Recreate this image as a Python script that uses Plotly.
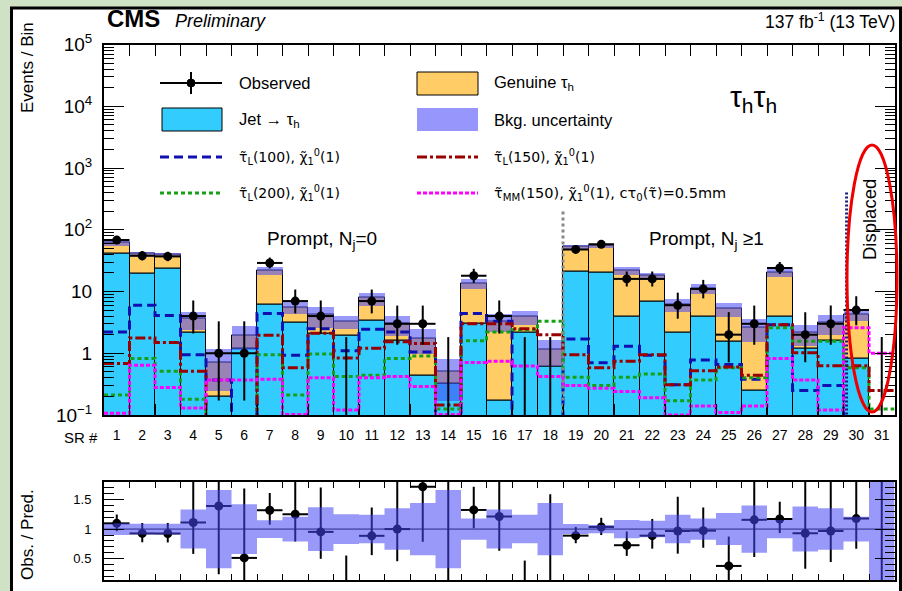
import numpy as np
import plotly.graph_objects as go

W, H = 902, 591

# ---------------- data ----------------
sr_labels = [str(i) for i in range(1, 32)]
jet_tau = [41, 19.6, 23.6, 2.2, 0.2, 1.19, 6.2, 3.2, 2.1, 1.95, 3.4, 1.6, 0.43, 0.32, 3.0, 0.17,
           2.2, 0.62, 21, 20, 4.0, 7.0, 2.2, 4.0, 1.55, 0.245, 4.0, 1.2, 1.6, 0.82, 0]
genuine_tau = [21, 21.4, 16.4, 1.4, 0.52, 0.76, 15.8, 2.4, 2.1, 1.35, 4.5, 1.4, 1.32, 0.18, 10.6, 3.13,
               1.7, 0.53, 33, 36, 18, 11, 4.0, 7.3, 3.75, 2.35, 16.5, 0.95, 1.5, 3.43, 0]
observed = [68, 38, 37, 4, 1, 1, 29, 7, 4, 0, 7, 3, 3, 0, 18, 4,
            0, 0, 48, 58, 16, 16, 6, 11, 2, 3, 24, 2, 3, 5, 0]
bkg_rel_unc = [0.10, 0.09, 0.09, 0.33, 0.66, 0.42, 0.15, 0.21, 0.37, 0.25, 0.24, 0.35, 0.44, 0.66, 0.18, 0.33,
               0.24, 0.44, 0.085, 0.07, 0.155, 0.14, 0.24, 0.18, 0.27, 0.40, 0.155, 0.38, 0.35, 0.21, None]
sig_tauL100 = [2.2, 6.0, 4.1, 0.95, 0.37, 0, 4.4, 0.93, 2.5, 1.1, 2.45, 2.2, 1.05, 0, 4.4, 3.3,
               0, 0, 1.7, 0.7, 1.3, 0.93, 0.31, 0.78, 0.66, 0.38, 2.9, 0.25, 0.3, 0, 0]
sig_tauL150 = [0.68, 1.77, 1.5, 0.51, 0, 0, 1.96, 0.58, 2.1, 0.84, 1.2, 1.53, 1.44, 0.145, 3.0, 3.0,
               2.5, 2.0, 0.95, 0.58, 0.74, 0.95, 0.31, 0.52, 0.6, 0.44, 2.9, 1.02, 0.63, 0.63, 0.25]
sig_tauL200 = [0.21, 0.82, 0.51, 0.18, 0, 0, 0.95, 0.21, 0.97, 0.42, 0.44, 0.82, 0.9, 0.125, 1.6, 2.2,
               2.4, 3.3, 0.41, 0.30, 0.41, 0.46, 0.17, 0.37, 0.58, 0.40, 2.6, 1.56, 1.56, 0.58, 0.125]
sig_tauMM150 = [0.107, 0.64, 0.28, 0.13, 0.37, 0.37, 0.38, 0.102, 0.4, 0.12, 0.4, 0.42, 0.29, 0.102, 0.71, 0.74,
                0.62, 0.42, 0.3, 0.27, 0.24, 0.19, 0.1, 0.14, 0.11, 0.14, 0.82, 0.37, 0.12, 2.6, 1.0]

# ---------------- styles ----------------
FONT = "Liberation Sans, Arial, Helvetica, sans-serif"
FONT_TILDE = "DejaVu Sans, Liberation Sans, sans-serif"
C_JET = "#33ccff"
C_GEN = "#ffcc66"
C_UNC = "rgba(70,70,245,0.55)"
C_UNC_LEG = "rgb(150,150,252)"
C_BLUE = "#1010b0"
C_RED = "#990000"
C_GREEN = "#16a016"
C_MAG = "#ff00ff"
BG_GREEN = "#cfe2c6"
FLOOR = 1e-3
RATIO_RANGE = [0.14, 1.8]


def px(x):
    return x / W


def py(y):
    return 1 - y / H


n = len(sr_labels)
centers = np.arange(1, n + 1, dtype=float)
edges = np.arange(0.5, n + 1.0, 1.0)
jet = np.array(jet_tau, float)
gen = np.array(genuine_tau, float)
tot = jet + gen
obs = np.array(observed, float)
unc = np.array([u if u is not None else np.nan for u in bkg_rel_unc], float)


def garwood(k):
    kk = np.maximum(k, 1)
    lo = np.where(k > 0, k * (1 - 1 / (9 * kk) - 1 / (3 * np.sqrt(kk))) ** 3, 0.0)
    up = (k + 1) * (1 - 1 / (9 * (k + 1)) + 1 / (3 * np.sqrt(k + 1))) ** 3
    return k - lo, up - k


err_lo, err_up = garwood(obs)

fig = go.Figure()

# ---------------- main panel ----------------
fig.add_trace(go.Bar(x=centers, y=jet, base=[FLOOR] * n, width=1.0, marker=dict(color=C_JET, line=dict(color="black", width=1)),
                     showlegend=False, name="Jet → τh", xaxis="x", yaxis="y"))
fig.add_trace(go.Bar(x=centers, y=gen, base=jet, width=1.0, marker=dict(color=C_GEN, line=dict(color="black", width=1)),
                     showlegend=False, name="Genuine τh", xaxis="x", yaxis="y"))
m = (tot > 0) & ~np.isnan(unc)
fig.add_trace(go.Bar(x=centers[m], y=(2 * tot * unc)[m], base=(tot * (1 - unc))[m], width=1.0,
                     marker=dict(color=C_UNC, line=dict(width=0)), showlegend=False, name="Bkg. uncertainty",
                     xaxis="x", yaxis="y"))


def step_xy(vals):
    v = np.array(vals, float)
    v = np.where(v > 0, v, FLOOR)
    return edges, np.append(v, v[-1])


for vals, col, dash, nm in [
    (sig_tauL100, C_BLUE, "9px,5px", "τL(100)"),
    (sig_tauL200, C_GREEN, "4px,3px", "τL(200)"),
    (sig_tauL150, C_RED, "10px,3px,3px,3px", "τL(150)"),
    (sig_tauMM150, C_MAG, "4px,2px", "τMM(150)"),
]:
    xs, ys = step_xy(vals)
    fig.add_trace(go.Scatter(x=xs, y=ys, mode="lines", line=dict(color=col, width=3, dash=dash, shape="hv"),
                             showlegend=False, name=nm, xaxis="x", yaxis="y"))

# region separators
fig.add_trace(go.Scatter(x=[18.5, 18.5], y=[FLOOR, 200], mode="lines", line=dict(color="#888888", width=3, dash="3px,3px"),
                         showlegend=False, hoverinfo="skip", xaxis="x", yaxis="y"))
fig.add_trace(go.Scatter(x=[29.62, 29.62], y=[FLOOR, 400], mode="lines", line=dict(color="#1a1a7a", width=3, dash="2px,2px"),
                         showlegend=False, hoverinfo="skip", xaxis="x", yaxis="y"))

# observed
mo = obs > 0
fig.add_trace(go.Scatter(x=centers[mo], y=obs[mo], mode="markers", marker=dict(color="black", size=9),
                         error_y=dict(type="data", symmetric=False, array=err_up[mo], arrayminus=err_lo[mo],
                                      color="black", thickness=2, width=0),
                         error_x=dict(type="data", array=[0.5] * int(mo.sum()), color="black", thickness=2, width=0),
                         showlegend=False, name="Observed", xaxis="x", yaxis="y"))
zx, zy = [], []
for c, e in zip(centers[~mo], err_up[~mo]):
    zx += [c, c, None]
    zy += [FLOOR, e, None]
fig.add_trace(go.Scatter(x=zx, y=zy, mode="lines", line=dict(color="black", width=2), showlegend=False,
                         hoverinfo="skip", xaxis="x", yaxis="y"))
# invisible trace so that the label axis (x3) is drawn
fig.add_trace(go.Scatter(x=centers, y=[1] * n, mode="markers", marker=dict(opacity=0, size=1), showlegend=False,
                         hoverinfo="skip", xaxis="x3", yaxis="y"))

# ---------------- ratio panel ----------------
fig.add_trace(go.Scatter(x=[edges[0], edges[-1]], y=[1, 1], mode="lines", line=dict(color="black", width=1),
                         showlegend=False, hoverinfo="skip", xaxis="x2", yaxis="y2"))
mr = mo & (tot > 0)
safe_tot = np.where(tot > 0, tot, 1)
ratio = obs / safe_tot
fig.add_trace(go.Scatter(x=centers[mr], y=ratio[mr], mode="markers", marker=dict(color="black", size=9),
                         error_y=dict(type="data", symmetric=False, array=(err_up / safe_tot)[mr],
                                      arrayminus=(err_lo / safe_tot)[mr], color="black", thickness=2, width=0),
                         error_x=dict(type="data", array=[0.5] * int(mr.sum()), color="black", thickness=2, width=0),
                         showlegend=False, name="Obs./Pred.", xaxis="x2", yaxis="y2"))
rx, ry = [], []
for i in np.where(~mo)[0]:
    top = err_up[i] / tot[i] if tot[i] > 0 else RATIO_RANGE[1]
    rx += [centers[i], centers[i], None]
    ry += [RATIO_RANGE[0], min(top, RATIO_RANGE[1]), None]
fig.add_trace(go.Scatter(x=rx, y=ry, mode="lines", line=dict(color="black", width=2), showlegend=False,
                         hoverinfo="skip", xaxis="x2", yaxis="y2"))
bx, by = [], []
for i in range(n):
    lo_e, hi_e = edges[i], edges[i + 1]
    if np.isnan(unc[i]) or tot[i] <= 0:
        b0, b1 = RATIO_RANGE
    else:
        b0, b1 = max(1 - unc[i], RATIO_RANGE[0]), min(1 + unc[i], RATIO_RANGE[1])
    bx += [lo_e, hi_e, hi_e, lo_e, lo_e, None]
    by += [b0, b0, b1, b1, b0, None]
fig.add_trace(go.Scatter(x=bx, y=by, mode="lines", fill="toself", fillcolor=C_UNC, line=dict(width=0),
                         showlegend=False, hoverinfo="skip", xaxis="x2", yaxis="y2"))

# ---------------- axes ----------------
XD = [px(104), px(894.5)]
YD_MAIN = [py(415), py(44.5)]
YD_RAT = [py(580), py(481.7)]
xr = [edges[0], edges[-1]]

minor_log = [mm * 10.0 ** e for e in range(-1, 5) for mm in range(2, 10)]
axis_common = dict(showline=True, linecolor="black", linewidth=2, mirror="ticks", showgrid=False, zeroline=False,
                   tickcolor="black", tickfont=dict(family=FONT, size=14, color="black"))

fig.update_layout(
    xaxis=dict(domain=XD, range=xr, anchor="y", tickmode="array", tickvals=list(edges), ticks="inside", ticklen=11,
               tickwidth=1, showticklabels=False, **axis_common),
    xaxis3=dict(domain=XD, range=xr, overlaying="x", anchor="y", side="bottom", tickmode="array",
                tickvals=list(centers), ticktext=sr_labels, ticks="", showline=False, showgrid=False, zeroline=False,
                ticklabelstandoff=10, tickfont=dict(family=FONT, size=14, color="black")),
    yaxis=dict(domain=YD_MAIN, type="log", range=[-1, 5], anchor="x", tickmode="array",
               tickvals=[0.1, 1, 10, 100, 1e3, 1e4, 1e5],
               ticktext=["10<sup>−1</sup>", "1", "10", "10<sup>2</sup>", "10<sup>3</sup>", "10<sup>4</sup>", "10<sup>5</sup>"],
               ticks="inside", ticklen=20, tickwidth=1, ticklabelstandoff=6,
               minor=dict(tickmode="array", tickvals=minor_log, ticks="inside", ticklen=10, tickcolor="black", showgrid=False),
               **{**axis_common, "tickfont": dict(family=FONT, size=19, color="black")}),
    xaxis2=dict(domain=XD, range=xr, anchor="y2", tickmode="array", tickvals=list(edges), ticks="inside", ticklen=6,
                tickwidth=1, showticklabels=False, **axis_common),
    yaxis2=dict(domain=YD_RAT, range=RATIO_RANGE, anchor="x2", tickmode="array", tickvals=[0.5, 1, 1.5],
                ticktext=["0.5", "1", "1.5"], ticks="inside", ticklen=20, tickwidth=1, ticklabelstandoff=8,
                minor=dict(tick0=0, dtick=0.1, ticks="inside", ticklen=10, tickcolor="black", showgrid=False),
                **{**axis_common, "tickfont": dict(family=FONT, size=13, color="black")}),
    barmode="overlay",
    bargap=0,
    width=W, height=H,
    margin=dict(l=0, r=0, t=0, b=0, pad=0, autoexpand=False),
    paper_bgcolor=BG_GREEN,
    plot_bgcolor="rgba(0,0,0,0)",
    font=dict(family=FONT, color="black"),
    showlegend=False,
)

shapes = []
annotations = []
# white panel with black frame
shapes.append(dict(type="rect", xref="paper", yref="paper", x0=px(11.5), x1=px(900.5), y0=py(620), y1=py(8),
                   fillcolor="white", line=dict(color="black", width=3), layer="below"))

# legend (manual, ROOT style)
ROWS = [83, 120, 157, 193]
LX0, LX1, RX0, RX1 = 160, 222, 417, 478
shapes += [
    dict(type="line", xref="paper", yref="paper", x0=px(LX0), x1=px(LX1), y0=py(ROWS[0]), y1=py(ROWS[0]),
         line=dict(color="black", width=2)),
    dict(type="line", xref="paper", yref="paper", x0=px(191), x1=px(191), y0=py(ROWS[0] - 11), y1=py(ROWS[0] + 11),
         line=dict(color="black", width=2)),
    dict(type="circle", xref="paper", yref="paper", x0=px(187), x1=px(195), y0=py(ROWS[0] + 4), y1=py(ROWS[0] - 4),
         fillcolor="black", line=dict(color="black", width=1)),
    dict(type="rect", xref="paper", yref="paper", x0=px(RX0), x1=px(RX1), y0=py(ROWS[0] + 12), y1=py(ROWS[0] - 11),
         fillcolor=C_GEN, line=dict(color="black", width=1)),
    dict(type="rect", xref="paper", yref="paper", x0=px(LX0 + 2), x1=px(LX1), y0=py(ROWS[1] + 11), y1=py(ROWS[1] - 12),
         fillcolor=C_JET, line=dict(color="black", width=1)),
    dict(type="rect", xref="paper", yref="paper", x0=px(RX0), x1=px(RX1), y0=py(ROWS[1] + 11), y1=py(ROWS[1] - 12),
         fillcolor=C_UNC_LEG, line=dict(width=0)),
    dict(type="line", xref="paper", yref="paper", x0=px(LX0), x1=px(LX1), y0=py(ROWS[2]), y1=py(ROWS[2]),
         line=dict(color=C_BLUE, width=3, dash="9px,5px")),
    dict(type="line", xref="paper", yref="paper", x0=px(RX0), x1=px(RX1), y0=py(ROWS[2]), y1=py(ROWS[2]),
         line=dict(color=C_RED, width=3, dash="10px,3px,3px,3px")),
    dict(type="line", xref="paper", yref="paper", x0=px(LX0), x1=px(LX1), y0=py(ROWS[3]), y1=py(ROWS[3]),
         line=dict(color=C_GREEN, width=3, dash="4px,3px")),
    dict(type="line", xref="paper", yref="paper", x0=px(RX0), x1=px(RX1), y0=py(ROWS[3]), y1=py(ROWS[3]),
         line=dict(color=C_MAG, width=3, dash="4px,2px")),
]
leg_texts = [
    (237, ROWS[0], "Observed", FONT, 16.5),
    (492, ROWS[0], "Genuine τ<sub>h</sub>", FONT, 16.5),
    (237, ROWS[1], "Jet → τ<sub>h</sub>", FONT, 16.5),
    (492, ROWS[1], "Bkg. uncertainty", FONT, 16.5),
    (237, ROWS[2], "τ̃<sub>L</sub>(100), χ̃<sub>1</sub><sup>0</sup>(1)", FONT_TILDE, 14),
    (492, ROWS[2], "τ̃<sub>L</sub>(150), χ̃<sub>1</sub><sup>0</sup>(1)", FONT_TILDE, 14),
    (237, ROWS[3], "τ̃<sub>L</sub>(200), χ̃<sub>1</sub><sup>0</sup>(1)", FONT_TILDE, 14),
    (492, ROWS[3], "τ̃<sub>MM</sub>(150), χ̃<sub>1</sub><sup>0</sup>(1), cτ<sub>0</sub>(τ̃)=0.5mm", FONT_TILDE, 14.5),
]
for x, y, t, f, s in leg_texts:
    annotations.append(dict(xref="paper", yref="paper", x=px(x), y=py(y), xanchor="left", yanchor="middle",
                            text=t, showarrow=False, font=dict(family=f, size=s, color="black")))

# red ellipse around displaced region
shapes.append(dict(type="circle", xref="paper", yref="paper", x0=px(847), x1=px(897), y0=py(412), y1=py(145),
                   line=dict(color="#ee0000", width=3)))

# texts
annotations += [
    dict(xref="paper", yref="paper", x=px(105), y=py(19), xanchor="left", yanchor="middle",
         text="<b>CMS</b>", showarrow=False, font=dict(family=FONT, size=24, color="black")),
    dict(xref="paper", yref="paper", x=px(173), y=py(21), xanchor="left", yanchor="middle",
         text="<i>Preliminary</i>", showarrow=False, font=dict(family=FONT, size=18, color="black")),
    dict(xref="paper", yref="paper", x=px(897), y=py(21), xanchor="right", yanchor="middle",
         text="137 fb<sup>-1</sup> (13 TeV)", showarrow=False, font=dict(family=FONT, size=17.5, color="black")),
    dict(xref="paper", yref="paper", x=px(753), y=py(99), xanchor="center", yanchor="middle",
         text="τ<sub>h</sub>τ<sub>h</sub>", showarrow=False, font=dict(family=FONT, size=30, color="black")),
    dict(xref="paper", yref="paper", x=px(322), y=py(240), xanchor="center", yanchor="middle",
         text="Prompt, N<sub>j</sub>=0", showarrow=False, font=dict(family=FONT, size=19, color="black")),
    dict(xref="paper", yref="paper", x=px(706), y=py(240), xanchor="center", yanchor="middle",
         text="Prompt, N<sub>j</sub> ≥1", showarrow=False, font=dict(family=FONT, size=19, color="black")),
    dict(xref="paper", yref="paper", x=px(869), y=py(220), xanchor="center", yanchor="middle", textangle=-90,
         text="Displaced", showarrow=False, font=dict(family=FONT, size=18.5, color="black")),
    dict(xref="paper", yref="paper", x=px(100), y=py(437), xanchor="right", yanchor="middle",
         text="SR #", showarrow=False, font=dict(family=FONT, size=15, color="black")),
    dict(xref="paper", yref="paper", x=px(27), y=py(68), xanchor="center", yanchor="middle", textangle=-90,
         text="Events / Bin", showarrow=False, font=dict(family=FONT, size=17, color="black")),
    dict(xref="paper", yref="paper", x=px(27), y=py(535), xanchor="center", yanchor="middle", textangle=-90,
         text="Obs. / Pred.", showarrow=False, font=dict(family=FONT, size=17, color="black")),
]

fig.update_layout(shapes=shapes, annotations=annotations)
fig.write_html("out.html")
